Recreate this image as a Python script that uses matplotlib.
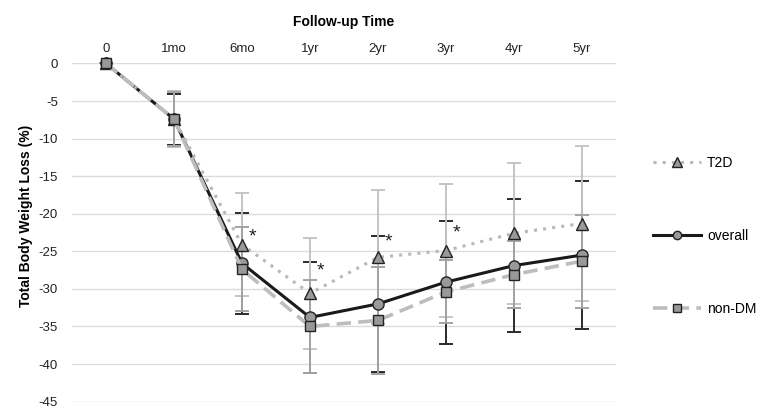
import matplotlib
matplotlib.use("Agg")
import matplotlib.pyplot as plt

plt.rcParams["font.family"] = ["Liberation Sans", "DejaVu Sans"]
plt.rcParams["axes.unicode_minus"] = False

# follow-up time points
timepoints = ["0", "1mo", "6mo", "1yr", "2yr", "3yr", "4yr", "5yr"]

# total body weight loss (%), mean and SD per group
t2d_mean = [0, -7.4, -24.1, -30.6, -25.8, -24.9, -22.6, -21.3]
t2d_sd = [0, 3.7, 6.8, 7.4, 8.9, 8.8, 9.4, 10.3]
overall_mean = [0, -7.4, -26.6, -33.8, -32.0, -29.1, -26.9, -25.5]
overall_sd = [0, 3.4, 6.7, 7.4, 9.1, 8.2, 8.8, 9.8]
nondm_mean = [0, -7.4, -27.4, -35.0, -34.2, -30.4, -28.1, -26.3]
nondm_sd = [0, 3.6, 5.6, 6.2, 7.1, 4.2, 4.5, 6.2]

# significance markers (T2D vs non-DM)
star_idx = [2, 3, 4, 5]
star_y = [-23.1, -27.6, -23.8, -22.6]

x = list(range(len(timepoints)))

fig = plt.figure(figsize=(7.66, 4.08), dpi=100)
ax = fig.add_axes([0.094, 0.0157, 0.71, 0.8287])

# error bars first: overall dark underneath, group bars on top
ax.errorbar(x, overall_mean, yerr=overall_sd, fmt="none", ecolor="#2b2b2b",
            elinewidth=1.4, capsize=5, capthick=1.4, zorder=2, clip_on=False)
ax.errorbar(x, t2d_mean, yerr=t2d_sd, fmt="none", ecolor="#c4c4c4",
            elinewidth=1.4, capsize=5, capthick=1.4, zorder=3, clip_on=False)
ax.errorbar(x, nondm_mean, yerr=nondm_sd, fmt="none", ecolor="#a3a3a3",
            elinewidth=1.4, capsize=5, capthick=1.4, zorder=3, clip_on=False)

ax.plot(x, overall_mean, color="#1a1a1a", lw=2.2, ls="-", marker="o",
        ms=8, mfc="#999999", mec="#222222", mew=1, label="overall",
        zorder=4, clip_on=False)
ax.plot(x, t2d_mean, color="#b8b8b8", lw=2.2, ls=(0, (1, 2)), marker="^",
        ms=9, mfc="#999999", mec="#222222", mew=1, label="T2D",
        zorder=5, clip_on=False)
ax.plot(x, nondm_mean, color="#bdbdbd", lw=2.6, ls=(0, (4, 2)), marker="s",
        ms=7.5, mfc="#999999", mec="#222222", mew=1, label="non-DM",
        zorder=6, clip_on=False)

for i, yv in zip(star_idx, star_y):
    ax.text(i + 0.16, yv, "*", fontsize=14, color="#222222",
            ha="center", va="center", zorder=7)

ax.set_xlim(-0.5, len(timepoints) - 0.5)
ax.set_ylim(-45, 0)
ax.set_yticks(range(0, -50, -5))
ax.set_xticks(x)
ax.set_xticklabels(timepoints)
ax.xaxis.tick_top()
ax.xaxis.set_label_position("top")
ax.tick_params(axis="both", length=0, labelsize=9.5, colors="#222222")
ax.tick_params(axis="x", pad=6)
ax.tick_params(axis="y", pad=10)
ax.set_xlabel("Follow-up Time", fontsize=10, fontweight="bold", labelpad=12)
ax.set_ylabel("Total Body Weight Loss (%)", fontsize=10, fontweight="bold",
              labelpad=4, y=0.55)

ax.grid(axis="y", color="#dcdcdc", lw=1)
ax.set_axisbelow(True)
for s in ax.spines.values():
    s.set_visible(False)

handles, labels = ax.get_legend_handles_labels()
order = [1, 0, 2]
fig.legend([handles[i] for i in order], [labels[i] for i in order],
           loc="center left", bbox_to_anchor=(0.836, 0.421), frameon=False,
           fontsize=10, handlelength=3.5, handletextpad=0.4, labelspacing=4.25,
           markerscale=0.75)

fig.savefig("out.png", dpi=100)
